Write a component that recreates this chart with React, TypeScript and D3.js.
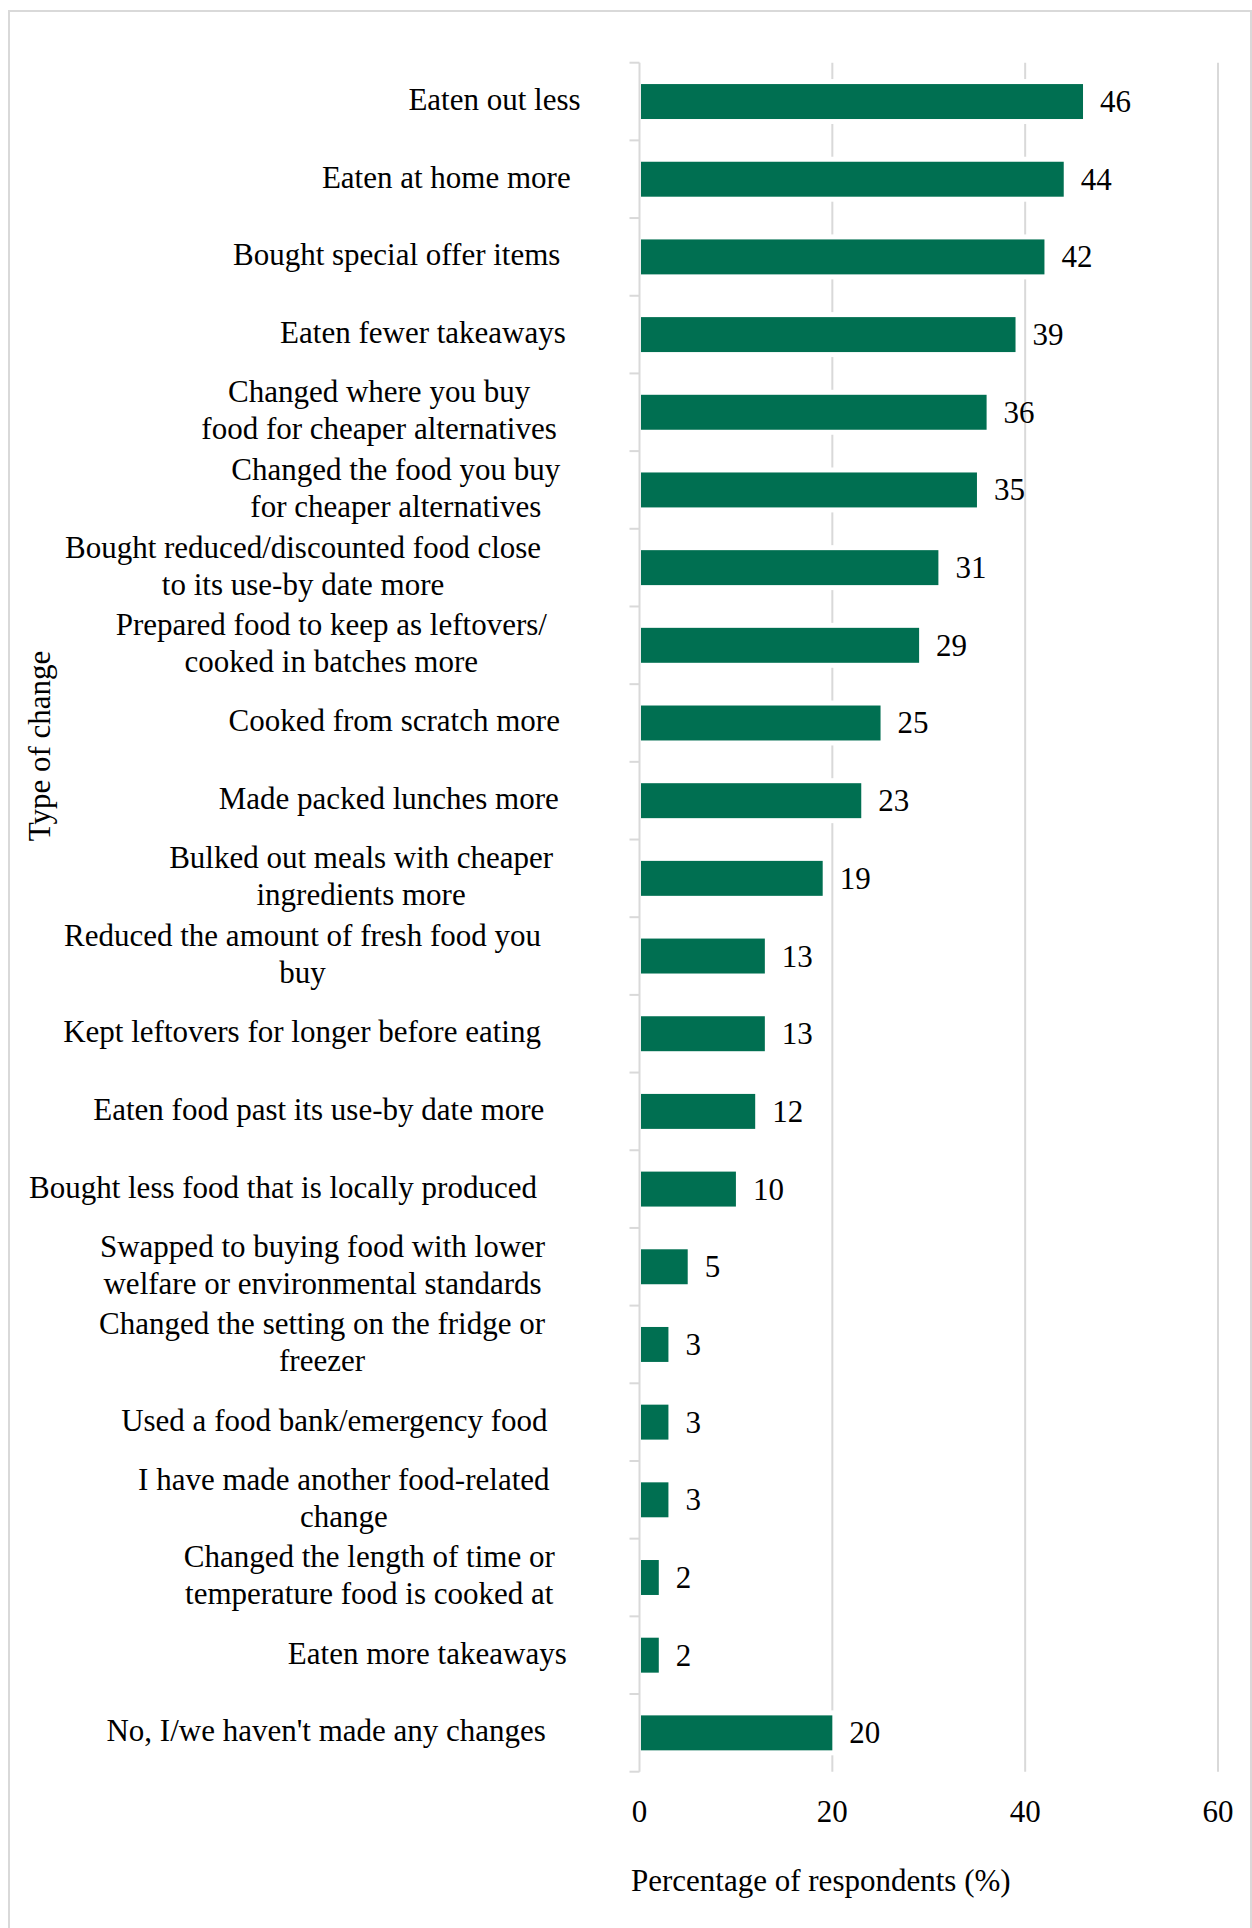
import { useEffect, useRef } from "react";
import * as d3 from "d3";

// Category labels, one entry per bar, already split into their display lines.
const categories: string[][] = [
  ["Eaten out less"],
  ["Eaten at home more"],
  ["Bought special offer items"],
  ["Eaten fewer takeaways"],
  ["Changed where you buy", "food for cheaper alternatives"],
  ["Changed the food you buy", "for cheaper alternatives"],
  ["Bought reduced/discounted food close", "to its use-by date more"],
  ["Prepared food to keep as leftovers/", "cooked in batches more"],
  ["Cooked from scratch more"],
  ["Made packed lunches more"],
  ["Bulked out meals with cheaper", "ingredients more"],
  ["Reduced the amount of fresh food you", "buy"],
  ["Kept leftovers for longer before eating"],
  ["Eaten food past its use-by date more"],
  ["Bought less food that is locally produced"],
  ["Swapped to buying food with lower", "welfare or environmental standards"],
  ["Changed the setting on the fridge or", "freezer"],
  ["Used a food bank/emergency food"],
  ["I have made another food-related", "change"],
  ["Changed the length of time or", "temperature food is cooked at"],
  ["Eaten more takeaways"],
  ["No, I/we haven't made any changes"],
];

// Percentage of respondents for each category (same order as above).
const percentages = [46, 44, 42, 39, 36, 35, 31, 29, 25, 23, 19, 13, 13, 12, 10, 5, 3, 3, 3, 2, 2, 20];

const xTicks = [0, 20, 40, 60];
const xTitle = "Percentage of respondents (%)";
const yTitle = "Type of change";

const WIDTH = 1252;
const HEIGHT = 1928;
const FONT = "'Liberation Serif', 'Times New Roman', serif";
const BAR_COLOR = "#006f51";
const GRID_COLOR = "#d9d9d9";

export default function App() {
  const ref = useRef<SVGSVGElement>(null);

  useEffect(() => {
    if (!ref.current) return;
    const svg = d3.select(ref.current);
    svg.selectAll("*").remove();

    const ids = categories.map((_, i) => String(i));

    const x = d3.scaleLinear().domain([0, 60]).range([639.5, 1218]);
    const y = d3.scaleBand<string>()
      .domain(ids)
      .range([62.7, 1771.7])
      .paddingInner(0.55)
      .paddingOuter(0.275);

    const top = y.range()[0];
    const bottom = y.range()[1];
    const step = y.step();

    // outer frame
    svg.append("rect")
      .attr("x", 9).attr("y", 11)
      .attr("width", WIDTH - 10).attr("height", HEIGHT)
      .attr("fill", "white")
      .attr("stroke", GRID_COLOR)
      .attr("stroke-width", 2);

    // vertical gridlines (not at 0, the axis line covers that)
    svg.append("g")
      .selectAll("line")
      .data(xTicks.filter(t => t > 0))
      .join("line")
        .attr("x1", d => x(d)).attr("x2", d => x(d))
        .attr("y1", top).attr("y2", bottom)
        .attr("stroke", GRID_COLOR)
        .attr("stroke-width", 2);

    // bars, with a white halo that breaks the gridlines around them
    svg.append("g")
      .selectAll("rect")
      .data(percentages)
      .join("rect")
        .attr("x", x(0) + 1.5)
        .attr("y", (_, i) => y(ids[i])!)
        .attr("width", d => x(d) - x(0) - 1.5)
        .attr("height", y.bandwidth())
        .attr("fill", BAR_COLOR)
        .attr("stroke", "white")
        .attr("stroke-width", 10)
        .attr("paint-order", "stroke");

    // y axis line and category-boundary ticks
    const axis = svg.append("g").attr("stroke", GRID_COLOR).attr("stroke-width", 2);
    axis.append("line")
      .attr("x1", x(0)).attr("x2", x(0))
      .attr("y1", top).attr("y2", bottom);
    axis.selectAll("line.tick")
      .data(d3.range(categories.length + 1))
      .join("line")
        .attr("class", "tick")
        .attr("x1", x(0) - 10).attr("x2", x(0))
        .attr("y1", i => top + i * step)
        .attr("y2", i => top + i * step);

    // value labels
    svg.append("g")
      .selectAll("text")
      .data(percentages)
      .join("text")
        .attr("x", d => x(d) + 17)
        .attr("y", (_, i) => y(ids[i])! + y.bandwidth() / 2 + 10.5)
        .attr("font-family", FONT)
        .attr("font-size", 31)
        .text(d => d);

    // category labels: lines centred inside a block, block pulled in a bit more for long labels
    const labels = svg.append("g")
      .attr("font-family", FONT)
      .attr("font-size", 31)
      .attr("fill", "black");

    categories.forEach((lines, i) => {
      const cy = y(ids[i])! + y.bandwidth() / 2 + 8.5;
      const g = labels.append("g");
      const texts = g.selectAll("text")
        .data(lines)
        .join("text")
          .attr("text-anchor", "middle")
          .attr("y", (_, j) => cy + (j - (lines.length - 1) / 2) * 37)
          .text(d => d);
      let maxW = 0;
      texts.each(function () {
        maxW = Math.max(maxW, (this as SVGTextElement).getComputedTextLength());
      });
      const right = 603 - 0.13 * maxW;
      texts.attr("x", right - maxW / 2);
    });

    // x tick labels
    svg.append("g")
      .selectAll("text")
      .data(xTicks)
      .join("text")
        .attr("x", d => x(d))
        .attr("y", 1822)
        .attr("text-anchor", "middle")
        .attr("font-family", FONT)
        .attr("font-size", 31)
        .text(d => d);

    // axis titles
    svg.append("text")
      .attr("x", x(0) - 8.5)
      .attr("y", 1891)
      .attr("font-family", FONT)
      .attr("font-size", 31)
      .text(xTitle);

    svg.append("text")
      .attr("transform", `translate(50,746) rotate(-90)`)
      .attr("text-anchor", "middle")
      .attr("font-family", FONT)
      .attr("font-size", 31)
      .text(yTitle);
  }, []);

  return (
    <div style={{ position: "absolute", left: 0, top: 0 }}>
      <svg ref={ref} width={WIDTH} height={HEIGHT} style={{ display: "block", background: "white" }} />
    </div>
  );
}
